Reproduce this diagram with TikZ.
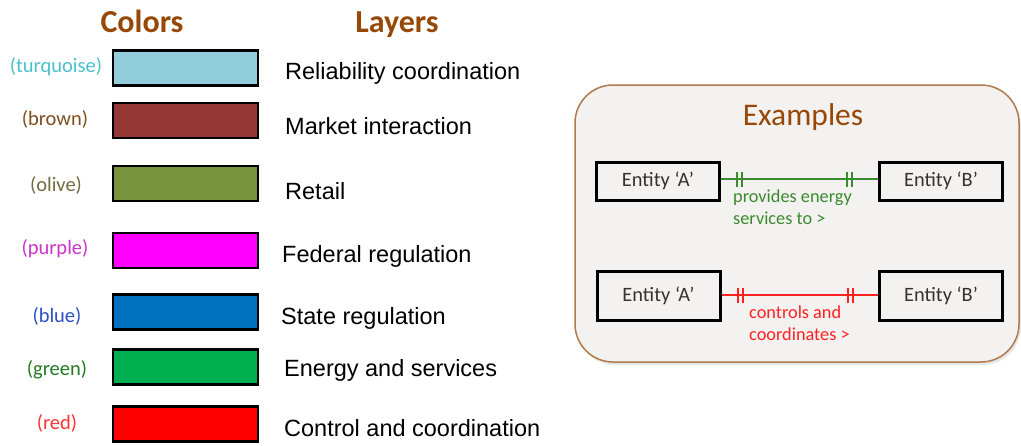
\documentclass[tikz,border=0pt]{standalone}
\usepackage{fontspec}
\setmainfont{Carlito}
\newfontfamily\arialf{Liberation Sans}
\usetikzlibrary{decorations.markings}
\definecolor{titlebrown}{HTML}{974806}
\definecolor{cturq}{HTML}{92CDDC}
\definecolor{cbrown}{HTML}{943634}
\definecolor{colive}{HTML}{77933C}
\definecolor{cpurple}{HTML}{FF00FF}
\definecolor{cblue}{HTML}{0070C0}
\definecolor{cgreen}{HTML}{00B050}
\definecolor{cred}{HTML}{FF0000}
\definecolor{tturq}{HTML}{4BC0CC}
\definecolor{tbrown}{HTML}{7F4F1F}
\definecolor{tolive}{HTML}{6E6E40}
\definecolor{tpurple}{HTML}{CC33CC}
\definecolor{tblue}{HTML}{2E4FC6}
\definecolor{tgreen}{HTML}{237A23}
\definecolor{tred}{HTML}{FF3333}
\definecolor{exfill}{HTML}{F4F2F0}
\definecolor{exborder}{HTML}{B07A4C}
\definecolor{lgreen}{HTML}{3A8A2E}
\definecolor{lred}{HTML}{FF2020}
\definecolor{entgray}{HTML}{333333}
\tikzset{
  swatch/.style={draw=black, line width=2.5pt, minimum width=145pt, minimum height=35pt, inner sep=0pt},
  colorlabel/.style={font=\fontsize{20.5}{24}\selectfont, inner sep=0pt},
  layertext/.style={font=\arialf\fontsize{23.5}{26}\selectfont, anchor=west, inner sep=0pt},
  heading/.style={font=\bfseries\fontsize{32}{35}\selectfont, text=titlebrown, inner sep=0pt, anchor=base},
  entity/.style={draw=black, line width=3pt, minimum width=123pt, minimum height=38pt, inner sep=0pt, text=entgray, font=\fontsize{20.4}{24}\selectfont},
  relline/.style={line width=2pt, postaction={decorate}, decoration={markings,
    mark=at position 16pt with {\draw[line width=2pt] (0,-7.5pt) -- (0,7.5pt);},
    mark=at position 21pt with {\draw[line width=2pt] (0,-7.5pt) -- (0,7.5pt);},
    mark=at position 126pt with {\draw[line width=2pt] (0,-7.5pt) -- (0,7.5pt);},
    mark=at position 131pt with {\draw[line width=2pt] (0,-7.5pt) -- (0,7.5pt);}}},
  reltext/.style={font=\fontsize{18.3}{22}\selectfont, align=left, anchor=north west, inner sep=0pt}
}
\begin{document}
\begin{tikzpicture}[x=1pt,y=-1pt]
\useasboundingbox (0,0) rectangle (1021,445);
% headings
\node[heading] (hcol) at (142,32) {Colors};
\node[heading] (hlay) at (397,32) {Layers};
% swatches
\node[swatch, fill=cturq]   (s1) at (185.5,68)  {};
\node[swatch, fill=cbrown]  (s2) at (185.5,120.5) {};
\node[swatch, fill=colive]  (s3) at (185.5,183.5) {};
\node[swatch, fill=cpurple] (s4) at (185.5,250.5) {};
\node[swatch, fill=cblue]   (s5) at (185.5,312) {};
\node[swatch, fill=cgreen]  (s6) at (185.5,367) {};
\node[swatch, fill=cred]    (s7) at (185.5,424) {};
% color labels
\node[colorlabel, text=tturq]   (c1) at (56,67)  {(turquoise)};
\node[colorlabel, text=tbrown]  (c2) at (55,119) {(brown)};
\node[colorlabel, text=tolive]  (c3) at (56,185) {(olive)};
\node[colorlabel, text=tpurple] (c4) at (55,249) {(purple)};
\node[colorlabel, text=tblue]   (c5) at (57,316) {(blue)};
\node[colorlabel, text=tgreen]  (c6) at (57,370) {(green)};
\node[colorlabel, text=tred]    (c7) at (57,423) {(red)};
% layer texts
\node[layertext] (l1) at (285,73)  {Reliability coordination};
\node[layertext] (l2) at (285,126) {Market interaction};
\node[layertext] (l3) at (285,191) {Retail};
\node[layertext] (l4) at (282,256) {Federal regulation};
\node[layertext] (l5) at (281,318) {State regulation};
\node[layertext] (l6) at (284,370) {Energy and services};
\node[layertext] (l7) at (284,428) {Control and coordination};
% examples box
\fill[black!9, rounded corners=38pt] (577,88) rectangle (1021,365);
\draw[exborder, fill=exfill, line width=1.5pt, rounded corners=38pt] (575,85) rectangle (1019,362);
\node[font=\fontsize{31.5}{34}\selectfont, text=titlebrown, inner sep=0pt] (ex) at (803,117) {Examples};
\node[entity] (a1) at (658,181) {Entity ‘A’};
\node[entity] (b1) at (941,181) {Entity ‘B’};
\node[entity, minimum height=49pt] (a2) at (658.5,295.5) {Entity ‘A’};
\node[entity, minimum height=49pt] (b2) at (941,295.5) {Entity ‘B’};
\draw[relline, lgreen] (a1.east |- 0,179) -- (b1.west |- 0,179);
\draw[relline, lred] (a2.east |- 0,295) -- (b2.west |- 0,295);
\node[reltext, text=lgreen] (t1) at (733,190) {provides energy\\services to >};
\node[reltext, text=lred] (t2) at (749,305.5) {controls and\\coordinates >};
\end{tikzpicture}
\end{document}
